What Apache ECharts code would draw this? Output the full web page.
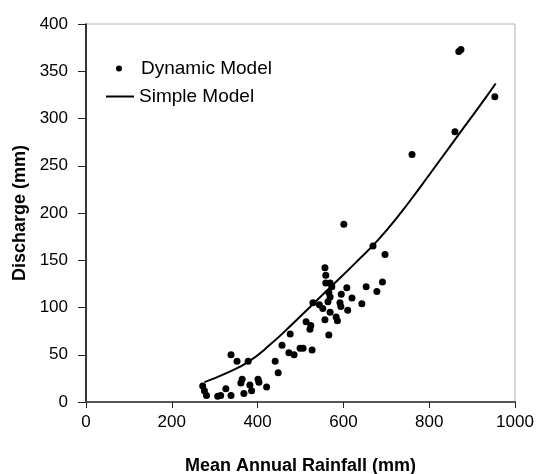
<!DOCTYPE html>
<html>
<head>
<meta charset="utf-8">
<script src="https://cdn.jsdelivr.net/npm/echarts@6/dist/echarts.min.js"></script>
<style>
    html, body { margin: 0; padding: 0; background: #fff; }
    #main { width: 538px; height: 474px; }
</style>
</head>
<body>
<div id="main"></div>
<script>
// Dynamic Model 散点 [降雨量, 径流]
var dynamicModel = [
    [272, 17], [276, 12], [281, 7], [307, 6], [314, 7], [326, 14], [338, 7],
    [338, 50], [352, 43], [378, 43], [364, 24], [361, 20], [368, 9], [382, 18],
    [386, 12], [401, 24], [403, 21], [421, 16], [441, 43], [448, 31], [457, 60],
    [473, 52], [485, 50], [499, 57], [506, 57], [527, 55], [476, 72],
    [513, 85], [524, 81], [522, 77], [529, 105], [544, 103], [552, 99],
    [557, 87], [566, 71], [569, 95], [583, 90], [586, 86], [592, 105],
    [594, 101], [610, 97], [643, 104], [559, 126], [569, 126], [573, 122],
    [566, 116], [569, 111], [564, 106], [608, 121], [595, 114], [620, 110],
    [653, 122], [678, 117], [691, 127], [697, 156], [669, 165], [557, 142],
    [559, 134], [601, 188], [760, 262], [860, 286], [869, 371], [874, 373],
    [953, 323]
];

// Simple Model 曲线
var simpleRain = [276, 330, 380, 430, 480, 530, 580, 630, 680, 730, 780, 830, 880, 930, 955];
var simpleQ = [21, 31, 43, 61, 82, 104, 126, 148, 171, 198, 228, 259, 290, 321, 337];

var xTicks = { min: 0, max: 1000, interval: 200 };
var yTicks = { min: 0, max: 400, interval: 50 };

var simpleModel = [];
for (var i = 0; i < simpleRain.length; i++) {
    simpleModel.push([simpleRain[i], simpleQ[i]]);
}

var font = 'Liberation Sans, Arial, sans-serif';

var myChart = echarts.init(document.getElementById('main'));
myChart.setOption({
    animation: false,
    grid: {
        left: 86, right: 23, top: 24, bottom: 72,
        outerBoundsMode: 'none', // 不要自动缩小绘图区
        show: true,
        borderColor: '#b4b4b4',
        borderWidth: 1
    },
    legend: [
        {
            data: ['Dynamic Model'],
            left: 111, top: 54,
            icon: 'circle',
            itemWidth: 6, itemHeight: 6,
            textStyle: { fontFamily: font, fontSize: 19, color: '#000', padding: [0, 0, 0, 14] }
        },
        {
            data: ['Simple Model'],
            left: 101, top: 82,
            icon: 'rect',
            itemWidth: 28, itemHeight: 2,
            textStyle: { fontFamily: font, fontSize: 19, color: '#000' }
        }
    ],
    xAxis: {
        type: 'value',
        min: xTicks.min, max: xTicks.max, interval: xTicks.interval,
        name: 'Mean Annual Rainfall (mm)',
        nameLocation: 'middle',
        nameGap: 55,
        nameTextStyle: { fontFamily: font, fontSize: 18, fontWeight: 'bold', color: '#000' },
        axisLine: { lineStyle: { color: '#555', width: 2 } },
        axisTick: { length: 6, lineStyle: { color: '#222' } },
        axisLabel: {
            margin: 12, fontFamily: font, fontSize: 17, color: '#000',
            formatter: function (v) { return String(v); }
        },
        splitLine: { show: false }
    },
    yAxis: {
        type: 'value',
        min: yTicks.min, max: yTicks.max, interval: yTicks.interval,
        name: 'Discharge (mm)',
        nameLocation: 'middle',
        nameGap: 56,
        nameTextStyle: { fontFamily: font, fontSize: 18, fontWeight: 'bold', color: '#000' },
        axisLine: { show: true, lineStyle: { color: '#000', width: 1.5 } },
        axisTick: { show: true, length: 8, lineStyle: { color: '#222' } },
        axisLabel: { margin: 18, fontFamily: font, fontSize: 17, color: '#000' },
        splitLine: { show: false }
    },
    series: [
        {
            name: 'Dynamic Model',
            type: 'scatter',
            data: dynamicModel,
            symbolSize: 7,
            itemStyle: { color: '#000', opacity: 1 }
        },
        {
            name: 'Simple Model',
            type: 'line',
            data: simpleModel,
            smooth: true,
            symbol: 'none',
            lineStyle: { color: '#000', width: 2 },
            itemStyle: { color: '#000' }
        }
    ]
});
</script>
</body>
</html>
